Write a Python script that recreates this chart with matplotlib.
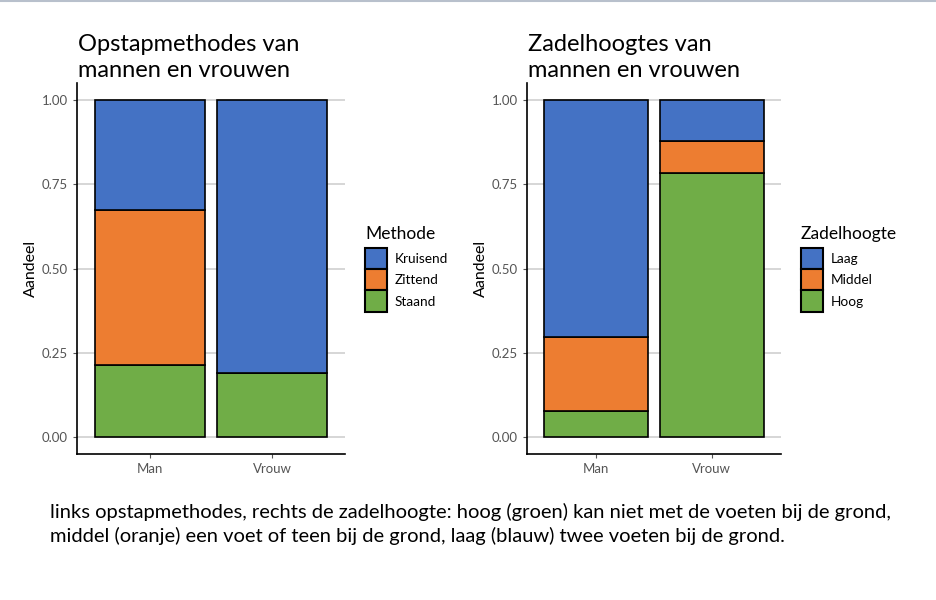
import matplotlib.pyplot as plt
from matplotlib.patches import Patch
from matplotlib.lines import Line2D

# data (shares per group)
groups = ["Man", "Vrouw"]

methods = ["Kruisend", "Zittend", "Staand"]
method_shares = {
    "Staand": [0.215, 0.19],
    "Zittend": [0.46, 0.0],
    "Kruisend": [0.325, 0.81],
}

heights = ["Laag", "Middel", "Hoog"]
height_shares = {
    "Hoog": [0.077, 0.783],
    "Middel": [0.22, 0.095],
    "Laag": [0.703, 0.122],
}

colors = {"blue": "#4472C4", "orange": "#ED7D31", "green": "#70AD47"}
FONT = ["Lato", "DejaVu Sans"]
plt.rcParams["font.family"] = FONT


def stacked(ax, shares, order, color_list):
    """Draw a filled stacked bar chart, bottom to top."""
    x = [1, 2]
    bottom = [0.0, 0.0]
    for name, col in zip(order, color_list):
        vals = shares[name]
        ax.bar(x, vals, bottom=bottom, width=0.9, color=col,
               edgecolor="black", linewidth=1.2, zorder=3)
        bottom = [b + v for b, v in zip(bottom, vals)]
    ax.set_xlim(0.4, 2.6)
    ax.set_ylim(-0.05, 1.05)
    ax.set_xticks(x)
    ax.set_xticklabels(groups)
    ax.set_yticks([0, 0.25, 0.5, 0.75, 1.0])
    ax.set_yticklabels(["0.00", "0.25", "0.50", "0.75", "1.00"])
    ax.yaxis.grid(True, color="#d0d0d0", linewidth=1.2, zorder=0)
    ax.xaxis.grid(False)
    for s in ["top", "right"]:
        ax.spines[s].set_visible(False)
    for s in ["left", "bottom"]:
        ax.spines[s].set_linewidth(1.2)
        ax.spines[s].set_color("black")
    ax.tick_params(axis="both", colors="#555555", labelsize=9.5,
                   length=3, width=0.8)
    ax.set_ylabel("Aandeel", fontsize=11.5, color="black", labelpad=3)


fig = plt.figure(figsize=(9.36, 6.0), dpi=100)

ax1 = fig.add_axes([0.0823, 0.2433, 0.2863, 0.6183])
stacked(ax1, method_shares, ["Staand", "Zittend", "Kruisend"],
        [colors["green"], colors["orange"], colors["blue"]])

ax2 = fig.add_axes([0.5630, 0.2433, 0.2714, 0.6183])
stacked(ax2, height_shares, ["Hoog", "Middel", "Laag"],
        [colors["green"], colors["orange"], colors["blue"]])

# titles
fig.text(78 / 936, 1 - 34 / 600, "Opstapmethodes van\nmannen en vrouwen",
         fontsize=17, va="top", ha="left", linespacing=1.3)
fig.text(528 / 936, 1 - 34 / 600, "Zadelhoogtes van\nmannen en vrouwen",
         fontsize=17, va="top", ha="left", linespacing=1.3)


def legend(title, labels, x):
    handles = [Patch(facecolor=c, edgecolor="black", linewidth=1.5)
               for c in [colors["blue"], colors["orange"], colors["green"]]]
    leg = fig.legend(handles, labels, title=title, loc="upper left",
                     bbox_to_anchor=(x, 1 - 226 / 600), frameon=False,
                     fontsize=9.8, title_fontsize=12.5, labelspacing=0.0,
                     handleheight=2.05, handlelength=1.6,
                     handletextpad=0.6, borderpad=0.0, borderaxespad=0.0)
    leg._legend_box.align = "left"
    leg._legend_box.sep = 4


legend("Methode", methods, 365 / 936)
legend("Zadelhoogte", heights, 801 / 936)

# caption
fig.text(50 / 936, 1 - 524 / 600,
         "links opstapmethodes, rechts de zadelhoogte: hoog (groen) kan niet met de voeten bij de grond,\n"
         "middel (oranje) een voet of teen bij de grond, laag (blauw) twee voeten bij de grond.",
         fontsize=14.5, va="center", ha="left", linespacing=1.35)

# thin frame line at the top
fig.add_artist(Line2D([0, 1], [0.998, 0.998], color="#b8c0cc", linewidth=1.5,
                      transform=fig.transFigure))

fig.savefig("out.png", dpi=100)
